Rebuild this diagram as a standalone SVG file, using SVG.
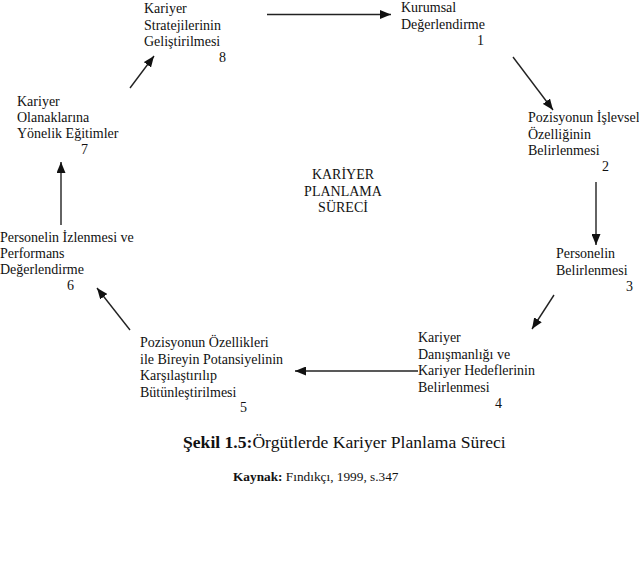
<svg xmlns="http://www.w3.org/2000/svg" width="639" height="567" viewBox="0 0 639 567">
<style>
  text { font-family: "Liberation Serif", "Times New Roman", serif; font-size: 14px; fill: #111; }
  .c { text-anchor: middle; }
  .cap { font-size: 17.6px; }
  .src { font-size: 13.3px; }
  .b { font-weight: bold; }
  .conn line { stroke: #222; stroke-width: 1.4; fill: none; marker-end: url(#ah); }
</style>
<defs>
  <marker id="ah" markerUnits="userSpaceOnUse" markerWidth="11" markerHeight="9" refX="11" refY="4.5" orient="auto">
    <path d="M0,0 L11,4.5 L0,9 z" fill="#111"/>
  </marker>
</defs>
<rect width="639" height="567" fill="#fff"/>

<g id="n1">
  <text x="401" y="12">Kurumsal</text>
  <text x="401" y="28.5">Değerlendirme</text>
  <text x="477" y="45">1</text>
</g>
<g id="n2">
  <text x="528" y="122">Pozisyonun İşlevsel</text>
  <text x="528" y="138.5">Özelliğinin</text>
  <text x="528" y="155">Belirlenmesi</text>
  <text x="602" y="171">2</text>
</g>
<g id="n3">
  <text x="556" y="258">Personelin</text>
  <text x="556" y="274.5">Belirlenmesi</text>
  <text x="626" y="291">3</text>
</g>
<g id="n4">
  <text x="418" y="342">Kariyer</text>
  <text x="418" y="358.5">Danışmanlığı ve</text>
  <text x="418" y="375">Kariyer Hedeflerinin</text>
  <text x="418" y="391.5">Belirlenmesi</text>
  <text x="495" y="408">4</text>
</g>
<g id="n5">
  <text x="140" y="347">Pozisyonun Özellikleri</text>
  <text x="140" y="363.5">ile Bireyin Potansiyelinin</text>
  <text x="140" y="380">Karşılaştırılıp</text>
  <text x="140" y="396.5">Bütünleştirilmesi</text>
  <text x="240" y="412">5</text>
</g>
<g id="n6">
  <text x="0" y="242">Personelin İzlenmesi ve</text>
  <text x="0" y="258">Performans</text>
  <text x="0" y="274">Değerlendirme</text>
  <text x="67" y="290">6</text>
</g>
<g id="n7">
  <text x="17" y="106">Kariyer</text>
  <text x="17" y="122">Olanaklarına</text>
  <text x="17" y="138">Yönelik Eğitimler</text>
  <text x="81" y="154">7</text>
</g>
<g id="n8">
  <text x="144" y="13">Kariyer</text>
  <text x="144" y="29.5">Stratejilerinin</text>
  <text x="144" y="46">Geliştirilmesi</text>
  <text x="219" y="62">8</text>
</g>
<g id="center">
  <text class="c" x="343" y="179">KARİYER</text>
  <text class="c" x="343" y="195.5">PLANLAMA</text>
  <text class="c" x="343" y="212">SÜRECİ</text>
</g>

<g class="conn" id="connectors">
  <line x1="267" y1="14.5" x2="391" y2="14.5"/>
  <line x1="513" y1="57" x2="553" y2="110"/>
  <line x1="596" y1="182" x2="596" y2="245"/>
  <line x1="554" y1="295" x2="532" y2="329"/>
  <line x1="418" y1="371" x2="295" y2="371"/>
  <line x1="130" y1="330" x2="97" y2="288"/>
  <line x1="61" y1="225" x2="61" y2="162"/>
  <line x1="130" y1="88" x2="154" y2="56"/>
</g>

<g id="caption">
  <text class="cap" x="183" y="448"><tspan class="b">Şekil 1.5:</tspan>Örgütlerde Kariyer Planlama Süreci</text>
  <text class="src" x="233" y="481"><tspan class="b">Kaynak:</tspan> Fındıkçı, 1999, s.347</text>
</g>
</svg>
